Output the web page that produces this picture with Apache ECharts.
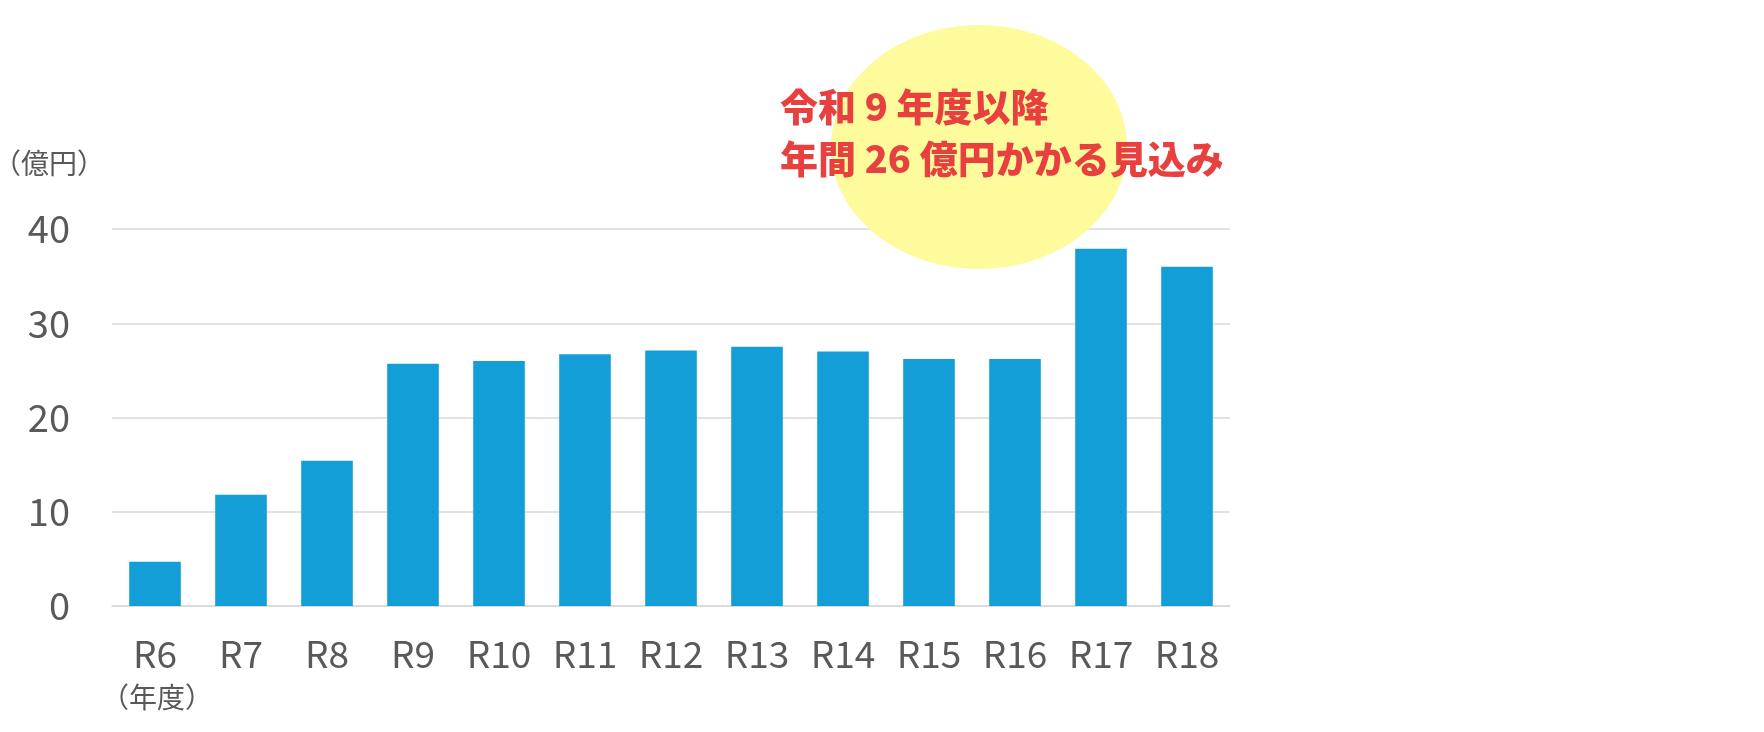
<!DOCTYPE html>
<html><head><meta charset="utf-8">
<script src="https://cdn.jsdelivr.net/npm/echarts@6/dist/echarts.min.js"></script>
<style>html,body{margin:0;padding:0;background:#fff}#c{width:1764px;height:732px}</style>
</head><body><div id="c"></div>
<script>
const categories = ['R6','R7','R8','R9','R10','R11','R12','R13','R14','R15','R16','R17','R18'];
const costValues = [4.7, 11.8, 15.4, 25.7, 26.0, 26.7, 27.1, 27.5, 27.0, 26.2, 26.2, 37.9, 36.0];
const yTicks = [0, 10, 20, 30, 40];
const unitLabel = '（億円）';
const yearLabel = '（年度）';
const noteLines = ['令和 9 年度以降', '年間 26 億円かかる見込み'];

const chart = echarts.init(document.getElementById('c'));
const font = '"Noto Sans CJK JP","Noto Sans",sans-serif';
chart.setOption({
  animation: false,
  backgroundColor: '#fff',
  grid: { left: 112, right: 534, top: 229, bottom: 126 },
  xAxis: {
    type: 'category', data: categories,
    axisLine: { lineStyle: { color: '#d9d9d9', width: 1.5 } },
    axisTick: { show: false },
    axisLabel: { color: '#595959', fontSize: 37, fontFamily: font, margin: 29 }
  },
  yAxis: {
    type: 'value', min: yTicks[0], max: yTicks[yTicks.length-1], interval: 10,
    axisLine: { show: false }, axisTick: { show: false },
    splitLine: { lineStyle: { color: '#d9d9d9', width: 1.5 } },
    axisLabel: { color: '#595959', fontSize: 38, fontFamily: font, margin: 42 }
  },
  series: [{
    type: 'bar', data: costValues, barCategoryGap: '40%',
    itemStyle: { color: '#139ed7' }, z: 2
  }],
  graphic: [
    { type: 'text', left: -7, top: 149, z: 10,
      style: { text: unitLabel, fill: '#595959', font: '28px ' + font } },
    { type: 'text', left: 101, top: 683, z: 10,
      style: { text: yearLabel, fill: '#595959', font: '28px ' + font } },
    { type: 'ellipse', shape: { cx: 979, cy: 147, rx: 148, ry: 122 }, z: 20,
      style: { fill: '#fdfb9c' } },
    { type: 'text', left: 780, top: 88, z: 30,
      style: { text: noteLines[0], fill: '#e8403f', font: '900 38px ' + font } },
    { type: 'text', left: 780, top: 140, z: 30,
      style: { text: noteLines[1], fill: '#e8403f', font: '900 38px ' + font } }
  ]
});
</script></body></html>
